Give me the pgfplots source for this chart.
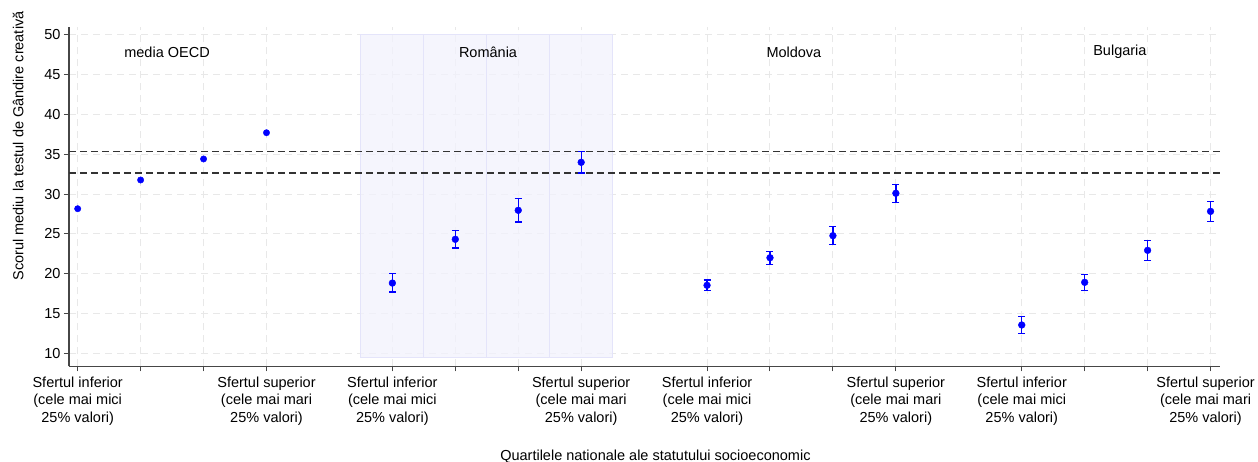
\documentclass[border=0pt]{standalone}
\usepackage{fontspec}
\setmainfont{Liberation Sans}
\usepackage{pgfplots}
\usepackage{pgfplotstable}
\pgfplotsset{compat=1.18}

% tari cu interval de incredere: x, medie, +eroare, -eroare
\pgfplotstableread{
x  y     ep   em
6  18.83 1.17 1.13
7  24.33 1.08 1.10
8  27.97 1.46 1.47
9  34.00 1.33 1.34
11 18.55 0.66 0.68
12 22.01 0.81 0.83
13 24.78 1.13 1.08
14 30.11 1.13 1.18
16 13.56 1.04 1.05
17 18.92 0.96 1.00
18 22.94 1.25 1.30
19 27.84 1.26 1.30
}\tari

% media OECD
\pgfplotstableread{
x y
1 28.17
2 31.78
3 34.42
4 37.72
}\oecd

\definecolor{axgray}{RGB}{70,70,70}
\definecolor{gridgray}{RGB}{232,232,232}
\definecolor{shade}{RGB}{242,242,253}
\definecolor{shadeedge}{RGB}{228,228,250}

\begin{document}
\begin{tikzpicture}
\useasboundingbox (-69pt,-94.7pt) rectangle (1189pt,366.3pt);
\begin{axis}[
    scale only axis,
    width=1151pt, height=339.6pt,
    xmin=0.862, xmax=19.15,
    ymin=8.37, ymax=51.04,
    axis x line*=bottom, axis y line*=left,
    axis line style={-, draw=axgray, line width=1.1pt},
    xtick={1,2,3,4,6,7,8,9,11,12,13,14,16,17,18,19},
    xticklabels={
        {Sfertul inferior\\(cele mai mici\\25\% valori)},{},{},{Sfertul superior\\(cele mai mari\\25\% valori)},
        {Sfertul inferior\\(cele mai mici\\25\% valori)},{},{},{Sfertul superior\\(cele mai mari\\25\% valori)},
        {Sfertul inferior\\(cele mai mici\\25\% valori)},{},{},{Sfertul superior\\(cele mai mari\\25\% valori)},
        {Sfertul inferior\\(cele mai mici\\25\% valori)},{},{},{Sfertul superior\kern10pt\\(cele mai mari\kern10pt\\25\% valori)\kern10pt}},
    xticklabel style={align=center, yshift=-2pt},
    ytick={10,15,...,50},
    tick align=outside,
    major tick length=5pt,
    tick style={draw=axgray, line width=1pt},
    grid=major,
    grid style={draw=gridgray, line width=1pt, dash pattern=on 7pt off 5pt},
    font=\fontsize{14.5}{17.5}\selectfont,
    /pgf/number format/assume math mode=true,
    xlabel={Quartilele nationale ale statutului socioeconomic},
    ylabel={Scorul mediu la testul de Gândire creativă},
    every axis x label/.style={at={(axis description cs:0.5095,-0.265)}, anchor=center},
    every axis y label/.style={at={(axis description cs:-0.0443,0.6487)}, rotate=90, anchor=center},
    clip=false,
]

% fundal Romania
\addplot[fill=shade, draw=shadeedge, line width=1pt, fill opacity=0.75] coordinates {(5.5,9.45) (6.5,9.45) (6.5,50) (5.5,50)} --cycle;
\addplot[fill=shade, draw=shadeedge, line width=1pt, fill opacity=0.75] coordinates {(6.5,9.45) (7.5,9.45) (7.5,50) (6.5,50)} --cycle;
\addplot[fill=shade, draw=shadeedge, line width=1pt, fill opacity=0.75] coordinates {(7.5,9.45) (8.5,9.45) (8.5,50) (7.5,50)} --cycle;
\addplot[fill=shade, draw=shadeedge, line width=1pt, fill opacity=0.75] coordinates {(8.5,9.45) (9.5,9.45) (9.5,50) (8.5,50)} --cycle;

% limitele intervalului pentru Romania, sfertul superior
\addplot[black!80, line width=1.3pt, dash pattern=on 7pt off 4pt] coordinates {(0.862,35.33) (19.15,35.33)};
\addplot[black!80, line width=1.3pt, dash pattern=on 7pt off 4pt] coordinates {(0.862,32.66) (19.15,32.66)};

\addplot[only marks, blue, mark=*, mark size=3.2pt] table[x=x, y=y] {\oecd};

\addplot[only marks, blue, mark=*, mark size=3.4pt,
    error bars/.cd, y dir=both, y explicit,
    error bar style={blue, line width=1.3pt},
    error mark options={rotate=90, blue, mark size=3.5pt, line width=1.2pt}]
    table[x=x, y=y, y error plus=ep, y error minus=em] {\tari};

\node at (axis cs:2.42,47.86) {media OECD};
\node at (axis cs:7.52,47.86) {România};
\node at (axis cs:12.38,47.86) {Moldova};
\node at (axis cs:17.56,47.86) {Bulgaria};

\end{axis}
\end{tikzpicture}
\end{document}
